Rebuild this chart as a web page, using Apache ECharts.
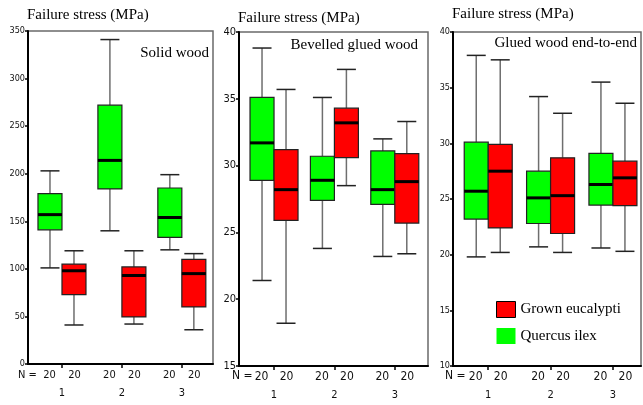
<!DOCTYPE html>
<html>
<head>
<meta charset="utf-8">
<script src="https://cdn.jsdelivr.net/npm/echarts@6/dist/echarts.min.js"></script>
<style>
  html, body { margin: 0; padding: 0; background: #fff; }
  #chart { width: 643px; height: 405px; }
</style>
</head>
<body>
<div id="chart"></div>
<script>
// Failure stress box plots: three joint types, two wood species, three groups each.
// Each box row: [lower whisker, Q1, median, Q3, upper whisker]
const categories = ['1', '2', '3'];
const speciesNames = ['Quercus ilex', 'Grown eucalypti'];
const panelTitles = ['Solid wood', 'Bevelled glued wood', 'Glued wood end-to-end'];
const axisTitle = 'Failure stress (MPa)';

const solidQuercus = [[101, 141, 157, 179, 203], [140, 184, 214, 272, 341], [120, 133, 154, 185, 199]];
const solidEucalypt = [[41, 73, 98, 105, 119], [42, 49.5, 93, 102, 119], [36, 60, 95, 110, 116]];
const bevelQuercus = [[21.4, 28.9, 31.7, 35.1, 38.8], [23.8, 27.4, 28.9, 30.7, 35.1], [23.2, 27.1, 28.2, 31.1, 32.0]];
const bevelEucalypt = [[18.2, 25.9, 28.2, 31.2, 35.7], [28.5, 30.6, 33.2, 34.3, 37.2], [23.4, 25.7, 28.8, 30.9, 33.3]];
const endQuercus = [[19.8, 23.2, 25.7, 30.1, 37.9], [20.7, 22.8, 25.1, 27.5, 34.2], [20.6, 24.45, 26.3, 29.1, 35.5]];
const endEucalypt = [[20.2, 22.4, 27.5, 29.9, 37.5], [20.2, 21.9, 25.3, 28.7, 32.7], [20.3, 24.4, 26.9, 28.4, 33.6]];

// sample sizes per group
const nQuercus = [20, 20, 20];
const nEucalypt = [20, 20, 20];

const yMin = [0, 15, 10];
const yMax = [350, 40, 40];
const yStep = [50, 5, 5];

const GREEN = '#00ff00';
const RED = '#ff0000';
const narrow = "'Liberation Sans Narrow', 'DejaVu Sans Condensed', sans-serif";
const serif = "'Liberation Serif', 'DejaVu Serif', serif";

// plot frames (pixel boxes)
const frames = [
  { left: 28, right: 213, top: 31, bottom: 364, xMin: 0.433, xMax: 3.52 },
  { left: 239, right: 428, top: 32, bottom: 366, xMin: 0.42, xMax: 3.55 },
  { left: 453, right: 641, top: 32, bottom: 366, xMin: 0.435, xMax: 3.45 }
];
const yLabelSize = [9, 11, 9];
const nLabelSize = [11, 12, 12];

const BOX_W = 24, CAP_W = 19;

function makeRender(side, color) {
  return function (params, api) {
    const c = api.value(0);
    const lo = api.coord([c, api.value(1)]);
    const q1 = api.coord([c, api.value(2)]);
    const md = api.coord([c, api.value(3)]);
    const q3 = api.coord([c, api.value(4)]);
    const hi = api.coord([c, api.value(5)]);
    const cx = lo[0] + side * BOX_W / 2;
    const half = BOX_W / 2, capHalf = CAP_W / 2;
    const whisker = { stroke: '#6e6e6e', lineWidth: 1.5 };
    const cap = { stroke: '#222', lineWidth: 1.5 };
    return {
      type: 'group',
      children: [
        { type: 'line', shape: { x1: cx, y1: hi[1], x2: cx, y2: q3[1] }, style: whisker },
        { type: 'line', shape: { x1: cx, y1: q1[1], x2: cx, y2: lo[1] }, style: whisker },
        { type: 'line', shape: { x1: cx - capHalf, y1: hi[1], x2: cx + capHalf, y2: hi[1] }, style: cap },
        { type: 'line', shape: { x1: cx - capHalf, y1: lo[1], x2: cx + capHalf, y2: lo[1] }, style: cap },
        { type: 'rect', shape: { x: cx - half, y: q3[1], width: BOX_W, height: q1[1] - q3[1] },
          style: { fill: color, stroke: '#222', lineWidth: 1.2 } },
        { type: 'line', shape: { x1: cx - half, y1: md[1], x2: cx + half, y2: md[1] },
          style: { stroke: '#000', lineWidth: 3 } }
      ]
    };
  };
}

function rows(stats) {
  return stats.map((s, i) => [i + 1].concat(s));
}

const panels = [
  [solidQuercus, solidEucalypt],
  [bevelQuercus, bevelEucalypt],
  [endQuercus, endEucalypt]
];

const grid = [], xAxis = [], yAxis = [], series = [], graphic = [];

frames.forEach((f, k) => {
  grid.push({
    left: f.left, top: f.top, width: f.right - f.left, height: f.bottom - f.top,
    show: true, borderColor: '#6a6a6a', borderWidth: 1.5, backgroundColor: 'transparent'
  });
  xAxis.push({
    type: 'value', gridIndex: k, min: f.xMin, max: f.xMax,
    splitLine: { show: false },
    axisLine: { show: true, onZero: false, lineStyle: { color: '#000', width: 2 } },
    axisTick: { show: true, customValues: [1, 2, 3], length: 4, inside: false, lineStyle: { color: '#000', width: 1.5 } },
    axisLabel: {
      customValues: [1, 2, 3], margin: 4,
      formatter: function (v) {
        const i = Math.round(v) - 1;
        return '{a|' + nQuercus[i] + '}{b|' + nEucalypt[i] + '}\n{c|' + categories[i] + '}';
      },
      rich: {
        a: { width: 25, align: 'center', fontFamily: narrow, fontSize: nLabelSize[k], lineHeight: 14, color: '#111' },
        b: { width: 25, align: 'center', fontFamily: narrow, fontSize: nLabelSize[k], lineHeight: 14, color: '#111' },
        c: { fontFamily: narrow, fontSize: 11, lineHeight: 22, color: '#111' }
      }
    }
  });
  yAxis.push({
    type: 'value', gridIndex: k, min: yMin[k], max: yMax[k], interval: yStep[k],
    splitLine: { show: false },
    axisLine: { show: true, lineStyle: { color: '#000', width: 2 } },
    axisTick: { show: true, length: 3, lineStyle: { color: '#000', width: 1.5 } },
    axisLabel: { margin: 3, fontFamily: narrow, fontSize: yLabelSize[k], color: '#111' }
  });
  const [qs, es] = panels[k];
  series.push({
    name: speciesNames[0], type: 'custom', xAxisIndex: k, yAxisIndex: k,
    itemStyle: { color: GREEN }, renderItem: makeRender(-1, GREEN),
    encode: { x: 0, y: [1, 2, 3, 4, 5] }, data: rows(qs), silent: true
  });
  series.push({
    name: speciesNames[1], type: 'custom', xAxisIndex: k, yAxisIndex: k,
    itemStyle: { color: RED }, renderItem: makeRender(1, RED),
    encode: { x: 0, y: [1, 2, 3, 4, 5] }, data: rows(es), silent: true
  });
});

// axis titles, panel captions, "N =" row labels
const titleY = [15, 18, 14];
const captionPos = [[209, 53], [418, 45], [637, 43]];
const nLabelX = [[18, 375], [232, 376], [445, 376]];
frames.forEach((f, k) => {
  graphic.push({ type: 'text', x: f.left - 1, y: titleY[k], style: {
    text: axisTitle, fontFamily: serif, fontSize: 15, fill: '#000', textVerticalAlign: 'middle' } });
  graphic.push({ type: 'text', x: captionPos[k][0], y: captionPos[k][1], style: {
    text: panelTitles[k], fontFamily: serif, fontSize: 15, fill: '#000', textAlign: 'right', textVerticalAlign: 'middle' } });
  graphic.push({ type: 'text', x: nLabelX[k][0], y: nLabelX[k][1], style: {
    text: 'N =', fontFamily: narrow, fontSize: nLabelSize[k], fill: '#111', textVerticalAlign: 'middle' } });
});

const chart = echarts.init(document.getElementById('chart'), null, { renderer: 'canvas' });
chart.setOption({
  animation: false,
  backgroundColor: '#fff',
  grid: grid,
  xAxis: xAxis,
  yAxis: yAxis,
  series: series,
  graphic: graphic,
  legend: {
    orient: 'vertical', left: 494, top: 299, padding: 2, itemGap: 10,
    itemWidth: 19, itemHeight: 16, icon: 'rect',
    textStyle: { fontFamily: serif, fontSize: 15, color: '#000' },
    data: [
      { name: speciesNames[1], itemStyle: { color: RED, borderColor: '#000', borderWidth: 1 } },
      { name: speciesNames[0], itemStyle: { color: GREEN, borderColor: '#000', borderWidth: 0 } }
    ]
  }
});
</script>
</body>
</html>
